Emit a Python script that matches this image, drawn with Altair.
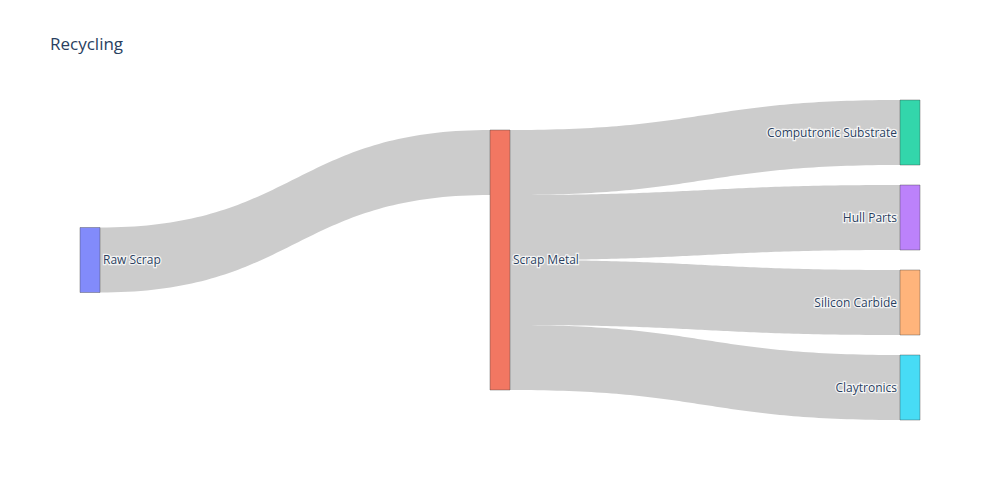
import altair as alt
import pandas as pd

# ---- data ----
node_names = ["Raw Scrap", "Scrap Metal", "Computronic Substrate", "Hull Parts",
              "Silicon Carbide", "Claytronics"]
node_colors = ["#636efa", "#EF553B", "#00cc96", "#ab63fa", "#FFA15A", "#19d3f3"]
link_source = [0, 1, 1, 1, 1]
link_target = [1, 2, 3, 4, 5]
link_value = [1, 1, 1, 1, 1]
title_text = "Recycling"

# ---- layout (sankey algorithm, plot-area units) ----
W, H = 840, 320
THICK, PAD = 20, 20
n = len(node_names)

depth = [0] * n
changed = True
while changed:
    changed = False
    for s, t in zip(link_source, link_target):
        if depth[t] < depth[s] + 1:
            depth[t] = depth[s] + 1
            changed = True
maxd = max(depth)

vin = [0.0] * n
vout = [0.0] * n
for s, t, v in zip(link_source, link_target, link_value):
    vout[s] += v
    vin[t] += v
nval = [max(a, b) for a, b in zip(vin, vout)]

cols = {}
for i in range(n):
    cols.setdefault(depth[i], []).append(i)
ky = min((H - (len(c) - 1) * PAD) / sum(nval[i] for i in c) for c in cols.values())

x0 = [0.0] * n
y0 = [0.0] * n
y1 = [0.0] * n
for d, c in cols.items():
    total = sum(nval[i] for i in c) * ky + (len(c) - 1) * PAD
    y = (H - total) / 2
    for i in c:
        x0[i] = d * (W - THICK) / maxd
        y0[i] = y
        y1[i] = y + nval[i] * ky
        y = y1[i] + PAD

# link positions
order = sorted(range(len(link_source)), key=lambda k: (y0[link_target[k]]))
out_off = list(y0)
link_sy = [0.0] * len(link_source)
for k in order:
    s = link_source[k]
    link_sy[k] = out_off[s]
    out_off[s] += link_value[k] * ky
order = sorted(range(len(link_source)), key=lambda k: (y0[link_source[k]]))
in_off = list(y0)
link_ty = [0.0] * len(link_source)
for k in order:
    t = link_target[k]
    link_ty[k] = in_off[t]
    in_off[t] += link_value[k] * ky

rows = []
N = 80
for k, (s, t, v) in enumerate(zip(link_source, link_target, link_value)):
    xa = x0[s] + THICK
    xb = x0[t]
    xm = (xa + xb) / 2
    h = v * ky
    for j in range(N + 1):
        u = j / N
        b0, b1, b2, b3 = (1 - u) ** 3, 3 * u * (1 - u) ** 2, 3 * u * u * (1 - u), u ** 3
        xx = b0 * xa + b1 * xm + b2 * xm + b3 * xb
        yt = (b0 + b1) * link_sy[k] + (b2 + b3) * link_ty[k]
        rows.append({"link": k, "x": xx, "ytop": yt, "ybot": yt + h})
links_df = pd.DataFrame(rows)

nodes_df = pd.DataFrame({
    "name": node_names,
    "color": node_colors,
    "x0": x0,
    "x1": [x + THICK for x in x0],
    "y0": y0,
    "y1": y1,
    "ym": [(a + b) / 2 for a, b in zip(y0, y1)],
    "last": [depth[i] == maxd for i in range(n)],
})
nodes_df["lx"] = [r.x0 - 3 if r.last else r.x1 + 3 for r in nodes_df.itertuples()]

xs = alt.Scale(domain=[0, W], nice=False, zero=False)
ys = alt.Scale(domain=[0, H], nice=False, zero=False, reverse=True)

links = alt.Chart(links_df).mark_area(
    color="#000000", opacity=0.2, interpolate="linear"
).encode(
    x=alt.X("x:Q", scale=xs, axis=None),
    y=alt.Y("ytop:Q", scale=ys, axis=None),
    y2="ybot:Q",
    detail="link:N",
)

nodes = alt.Chart(nodes_df).mark_rect(
    fillOpacity=0.8, stroke="#444444", strokeWidth=0.5, strokeOpacity=0.8
).encode(
    x=alt.X("x0:Q", scale=xs, axis=None),
    x2="x1:Q",
    y=alt.Y("y0:Q", scale=ys, axis=None),
    y2="y1:Q",
    fill=alt.Fill("color:N", scale=None),
)

def labels(right_side, halo):
    df = nodes_df[nodes_df["last"] == right_side]
    kw = dict(font="Open Sans", fontSize=12, baseline="middle",
              align="right" if right_side else "left")
    if halo:
        kw.update(color="#ffffff", stroke="#ffffff", strokeWidth=2.5, strokeOpacity=0.8)
    else:
        kw.update(color="#2a3f5f")
    return alt.Chart(df).mark_text(**kw).encode(
        x=alt.X("lx:Q", scale=xs, axis=None),
        y=alt.Y("ym:Q", scale=ys, axis=None),
        text="name:N",
    )

chart = alt.layer(
    links, nodes,
    labels(False, True), labels(True, True),
    labels(False, False), labels(True, False),
).properties(
    width=W, height=H,
    background="white",
    autosize=alt.AutoSizeParams(type="none"),
    padding={"left": 80, "top": 100, "right": 80, "bottom": 80},
    title=alt.TitleParams(
        title_text, anchor="start", frame="group", dx=-30, offset=46,
        font="Open Sans", fontSize=17, fontWeight="normal", color="#2a3f5f",
    ),
).configure_view(strokeWidth=0, stroke=None)

chart.save("out.html", embed_options={"renderer": "svg", "actions": False})
